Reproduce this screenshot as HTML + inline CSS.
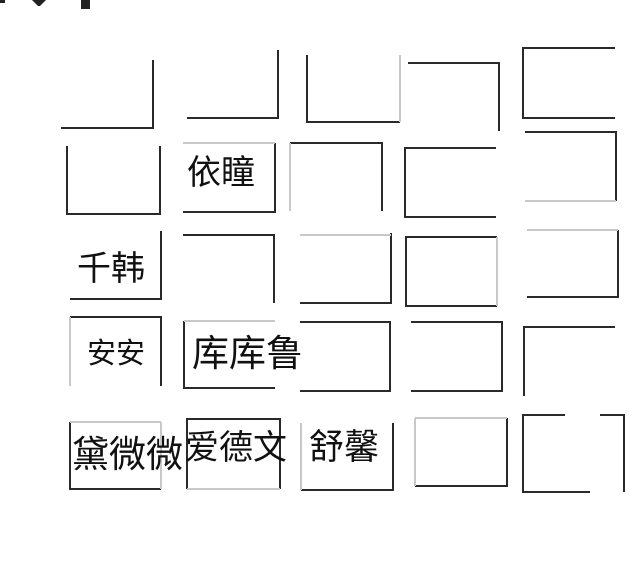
<!DOCTYPE html>
<html><head><meta charset="utf-8"><style>
html,body{margin:0;padding:0;background:#fff;width:640px;height:571px;overflow:hidden}
svg{display:block}
text{font-family:"Liberation Sans","Noto Sans CJK SC",sans-serif;fill:#111}
</style></head><body>
<svg width="640" height="571" viewBox="0 0 640 571" xmlns="http://www.w3.org/2000/svg">
<g fill="#222">
<rect x="0" y="0" width="5" height="3"/>
<polygon points="32,0 46,0 40,6 38,6"/>
<rect x="81" y="0" width="9" height="9"/>
</g>
<g fill="none" stroke="#2a2a2a" stroke-width="2">
<!-- row1 -->
<polyline points="61,128 153,128 153,60"/>
<polyline points="187,118 278,118 278,50"/>
<polyline points="307,55 307,122 400,122"/>
<polyline points="408,63 499,63 499,131"/>
<polyline points="615,48 523,48 523,118 615,118"/>
<!-- row2 -->
<polyline points="67,146 67,214 160,214 160,146"/>
<polyline points="275,143 275,212 183,212"/>
<polyline points="290,143 382,143 382,211"/>
<polyline points="496,148 405,148 405,217 496,217"/>
<polyline points="525,132 616,132 616,201"/>
<!-- row3 -->
<polyline points="161,231 161,299 70,299"/>
<polyline points="183,235 274,235 274,303"/>
<polyline points="300,303 391,303 391,233"/>
<polyline points="497,237 406,237 406,306 497,306"/>
<polyline points="527,297 618,297 618,230"/>
<!-- row4 -->
<polyline points="70,317 161,317 161,386"/>
<polyline points="184,321 184,388 275,388"/>
<polyline points="300,322 390,322 390,391 300,391"/>
<polyline points="411,322 502,322 502,391 411,391"/>
<polyline points="615,327 524,327 524,396"/>
<!-- row5 -->
<polyline points="70,422 70,489 161,489"/>
<polyline points="187,489 187,419 280,419 280,489"/>
<polyline points="301,490 393,490 393,423"/>
<polyline points="507,418 507,486 415,486"/>
<polyline points="565,415 523,415 523,492 590,492"/>
<polyline points="600,415 624,415 624,492"/>
</g>
<g fill="none" stroke="#c8c8c8" stroke-width="2">
<line x1="400" y1="55" x2="400" y2="122"/>
<line x1="183" y1="143" x2="275" y2="143"/>
<line x1="290" y1="143" x2="290" y2="211"/>
<line x1="525" y1="201" x2="616" y2="201"/>
<line x1="300" y1="235" x2="391" y2="235"/>
<line x1="497" y1="237" x2="497" y2="306"/>
<line x1="527" y1="230" x2="618" y2="230"/>
<line x1="70" y1="317" x2="70" y2="386"/>
<line x1="184" y1="321" x2="275" y2="321"/>
<line x1="70" y1="422" x2="161" y2="422"/>
<line x1="161" y1="422" x2="161" y2="489"/>
<line x1="187" y1="489" x2="280" y2="489"/>
<line x1="301" y1="423" x2="301" y2="490"/>
<line x1="415" y1="418" x2="507" y2="418"/>
<line x1="415" y1="418" x2="415" y2="486"/>
</g>
<text x="187" y="184" font-size="34">依瞳</text>
<text x="77" y="280" font-size="34">千韩</text>
<text x="87" y="363" font-size="29">安安</text>
<text x="192" y="366" font-size="37">库库鲁</text>
<text x="72" y="467" font-size="37">黛微微</text>
<text x="185" y="459" font-size="34">爱德文</text>
<text x="309" y="459" font-size="35">舒馨</text>
</svg>
</body></html>
